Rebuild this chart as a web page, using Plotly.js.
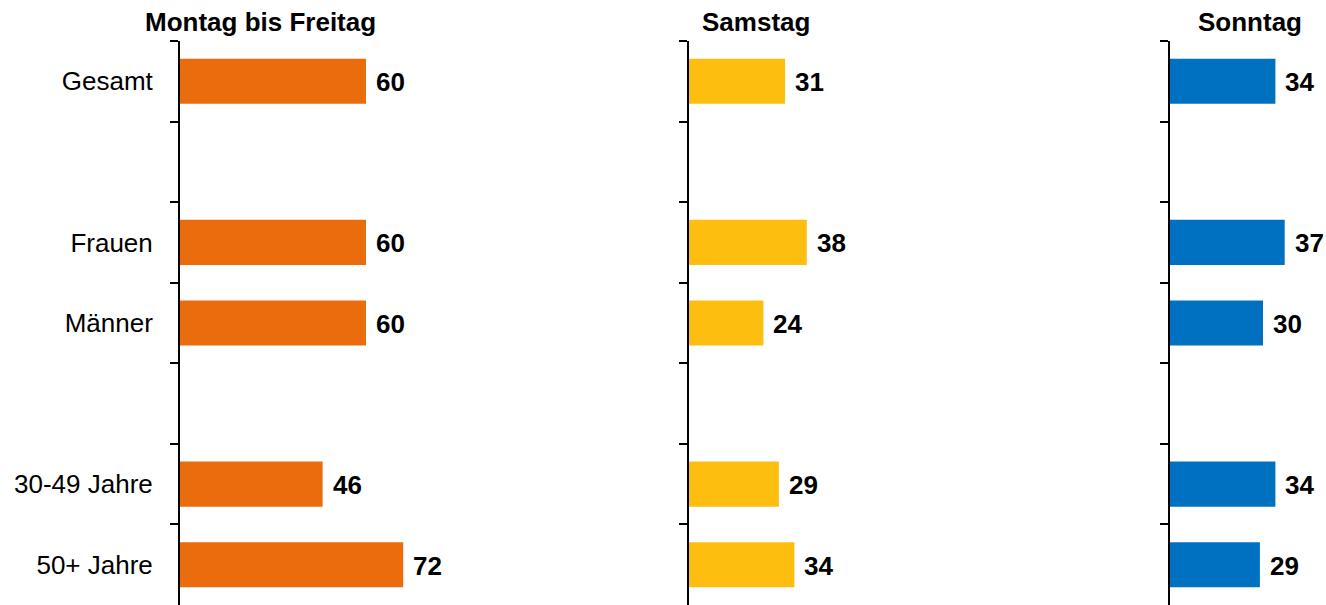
<!DOCTYPE html>
<html>
<head>
<meta charset="utf-8">
<script src="https://cdn.plot.ly/plotly-3.0.1.min.js"></script>
<style>html,body{margin:0;padding:0;background:#fff;}#chart{width:1326px;height:605px;}</style>
</head>
<body>
<div id="chart"></div>
<script>
// ---- data ----
const categories = ["Gesamt", "Frauen", "Männer", "30-49 Jahre", "50+ Jahre"];
const axisCategories = ["Gesamt", " ", "Frauen", "Männer", "  ", "30-49 Jahre", "50+ Jahre"];
const panelTitles = ["Montag bis Freitag", "Samstag", "Sonntag"];
const weekday = [60, 60, 60, 46, 72];
const saturday = [31, 38, 24, 29, 34];
const sunday = [34, 37, 30, 34, 29];

// ---- layout helpers ----
const W = 1326, H = 605;
const pxPerUnit = 3.1;
const panels = [
  {values: weekday, color: "#EA6C0C", start: 180, width: 330, title: 260.5},
  {values: saturday, color: "#FDBE10", start: 689, width: 300, title: 756},
  {values: sunday, color: "#0070C0", start: 1170, width: 150, title: 1250}
];
const FONT = "Liberation Sans, Arial, sans-serif";

const traces = [];
const annotations = [];
const layout = {
  width: W, height: H,
  margin: {l: 0, r: 0, t: 41, b: 0},
  paper_bgcolor: "#fff", plot_bgcolor: "rgba(0,0,0,0)",
  showlegend: false,
  bargap: 0.44,
  font: {family: FONT, size: 26, color: "#000"},
  annotations: annotations
};

panels.forEach((p, i) => {
  const n = i === 0 ? "" : String(i + 1);
  const xa = "x" + n, ya = "y" + n;
  traces.push({
    type: "bar", orientation: "h",
    x: p.values, y: categories,
    xaxis: xa, yaxis: ya,
    marker: {color: p.color},
    hoverinfo: "skip"
  });
  layout["xaxis" + n] = {
    domain: [p.start / W, (p.start + p.width) / W],
    range: [0, p.width / pxPerUnit],
    anchor: ya,
    visible: false, fixedrange: true
  };
  layout["yaxis" + n] = {
    domain: [0, 1],
    anchor: xa,
    type: "category",
    categoryorder: "array",
    categoryarray: axisCategories,
    range: [axisCategories.length - 0.5, -0.5],
    showline: true, linecolor: "#000", linewidth: 2,
    ticks: "outside", tickson: "boundaries", ticklen: 8, tickwidth: 2, tickcolor: "#000",
    showgrid: false, zeroline: false,
    showticklabels: i === 0,
    tickfont: {family: FONT, size: 26, color: "#000"},
    ticklabelstandoff: 20,
    fixedrange: true
  };
  p.values.forEach((v, k) => {
    annotations.push({
      x: v, y: categories[k], xref: xa, yref: ya,
      text: "<b>" + v + "</b>", showarrow: false,
      xanchor: "left", yanchor: "middle", xshift: 8, yshift: -1,
      font: {family: FONT, size: 26, color: "#000"}
    });
  });
  annotations.push({
    x: p.title / W, y: 1 + (41 - 22) / (H - 41), xref: "paper", yref: "paper",
    text: "<b>" + panelTitles[i] + "</b>", showarrow: false,
    xanchor: "center", yanchor: "middle",
    font: {family: FONT, size: 26, color: "#000"}
  });
});

Plotly.newPlot("chart", traces, layout, {displayModeBar: false, staticPlot: true});
</script>
</body>
</html>
